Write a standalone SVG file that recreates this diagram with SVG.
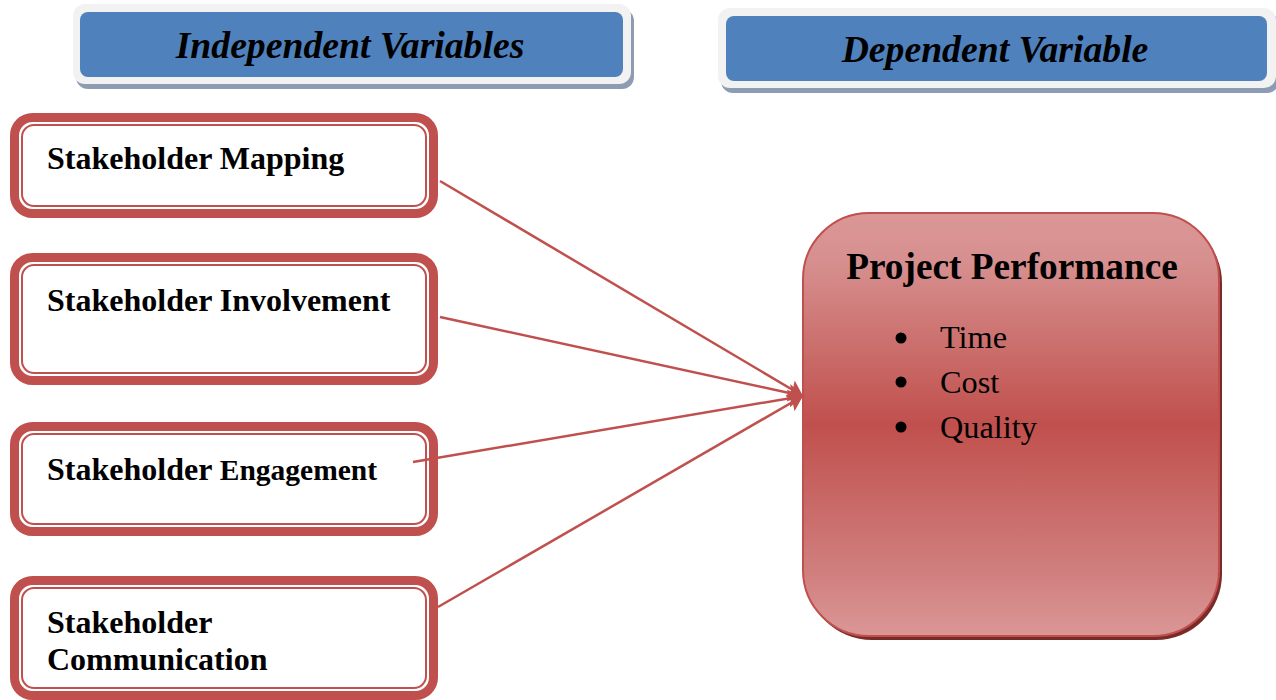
<svg xmlns="http://www.w3.org/2000/svg" width="1276" height="700" viewBox="0 0 1276 700">
<defs>
<linearGradient id="pp" x1="0" y1="0" x2="0" y2="1">
<stop offset="0" stop-color="#da9796"/>
<stop offset="0.12" stop-color="#d68f8e"/>
<stop offset="0.5" stop-color="#c0504d"/>
<stop offset="0.85" stop-color="#d07f7e"/>
<stop offset="1" stop-color="#da9796"/>
</linearGradient>
<marker id="arr" markerUnits="userSpaceOnUse" markerWidth="18" markerHeight="20" refX="15" refY="10" orient="auto">
<path d="M0,1 L15,10 L0,19 L3,10 Z" fill="#c0504d"/>
</marker>
<style>
.hdrOuter{fill:#f2f2f2;}
.hdrShadow{fill:#8c9cb3;}
.hdrInner{fill:#4f81bd;}
.hdrText{font-family:"Liberation Serif","Times New Roman",serif;font-weight:bold;font-style:italic;font-size:37.7px;fill:#000;}
.ivOuter{fill:#fff;stroke:#c0504d;stroke-width:9;}
.ivInner{fill:none;stroke:#c0504d;stroke-width:2;}
.ivText{font-family:"Liberation Serif","Times New Roman",serif;font-weight:bold;font-size:32px;fill:#000;}
.ppTitle{font-family:"Liberation Serif","Times New Roman",serif;font-weight:bold;font-size:37.3px;fill:#000;}
.ppText{font-family:"Liberation Serif","Times New Roman",serif;font-size:32.3px;fill:#000;}
.conn{stroke:#c0504d;stroke-width:2.5;fill:none;}
</style>
</defs>

<g id="header-independent">
<rect class="hdrShadow" x="76" y="9" width="558" height="80" rx="12"/>
<rect class="hdrOuter" x="73" y="4" width="558" height="80" rx="12"/>
<rect class="hdrInner" x="80" y="12" width="543" height="65" rx="8"/>
<text class="hdrText" x="350" y="58" text-anchor="middle">Independent Variables</text>
</g>

<g id="header-dependent">
<rect class="hdrShadow" x="721" y="13" width="558" height="80" rx="12"/>
<rect class="hdrOuter" x="718" y="8" width="558" height="80" rx="12"/>
<rect class="hdrInner" x="726" y="16" width="541" height="65" rx="8"/>
<text class="hdrText" x="995" y="62" text-anchor="middle">Dependent Variable</text>
</g>

<g id="stakeholder-mapping">
<rect class="ivOuter" x="14.5" y="117.5" width="419" height="96" rx="18"/>
<rect class="ivInner" x="22" y="125" width="404" height="81" rx="12"/>
<text class="ivText" x="47" y="169">Stakeholder Mapping</text>
</g>

<g id="stakeholder-involvement">
<rect class="ivOuter" x="14.5" y="257.5" width="419" height="123" rx="18"/>
<rect class="ivInner" x="22" y="265" width="404" height="108" rx="12"/>
<text class="ivText" x="47" y="311">Stakeholder Involvement</text>
</g>

<g id="stakeholder-engagement">
<rect class="ivOuter" x="14.5" y="426.5" width="419" height="105" rx="18"/>
<rect class="ivInner" x="22" y="434" width="404" height="90" rx="12"/>
<text class="ivText" x="47" y="480">Stakeholder <tspan font-size="29.5">Engagement</tspan></text>
</g>

<g id="stakeholder-communication">
<rect class="ivOuter" x="14.5" y="580.5" width="419" height="115" rx="18"/>
<rect class="ivInner" x="22" y="588" width="404" height="100" rx="12"/>
<text class="ivText" x="47" y="633">Stakeholder</text>
<text class="ivText" x="47" y="670">Communication</text>
</g>

<g id="project-performance">
<rect x="806" y="217" width="416" height="423" rx="66" fill="#7a2a28"/>
<rect x="803" y="213" width="416" height="423" rx="66" fill="url(#pp)" stroke="#c0504d" stroke-width="2"/>
<text class="ppTitle" x="1012" y="279" text-anchor="middle">Project Performance</text>
<circle cx="901" cy="338" r="5.5" fill="#000"/>
<circle cx="901" cy="382" r="5.5" fill="#000"/>
<circle cx="901" cy="427" r="5.5" fill="#000"/>
<text class="ppText" x="940" y="348">Time</text>
<text class="ppText" x="940" y="393">Cost</text>
<text class="ppText" x="940" y="438">Quality</text>
</g>

<g id="connectors">
<line class="conn" x1="440" y1="181" x2="803" y2="396" marker-end="url(#arr)"/>
<line class="conn" x1="440" y1="317" x2="803" y2="396" marker-end="url(#arr)"/>
<line class="conn" x1="413" y1="462" x2="803" y2="396" marker-end="url(#arr)"/>
<line class="conn" x1="438" y1="607" x2="803" y2="396" marker-end="url(#arr)"/>
</g>
</svg>
